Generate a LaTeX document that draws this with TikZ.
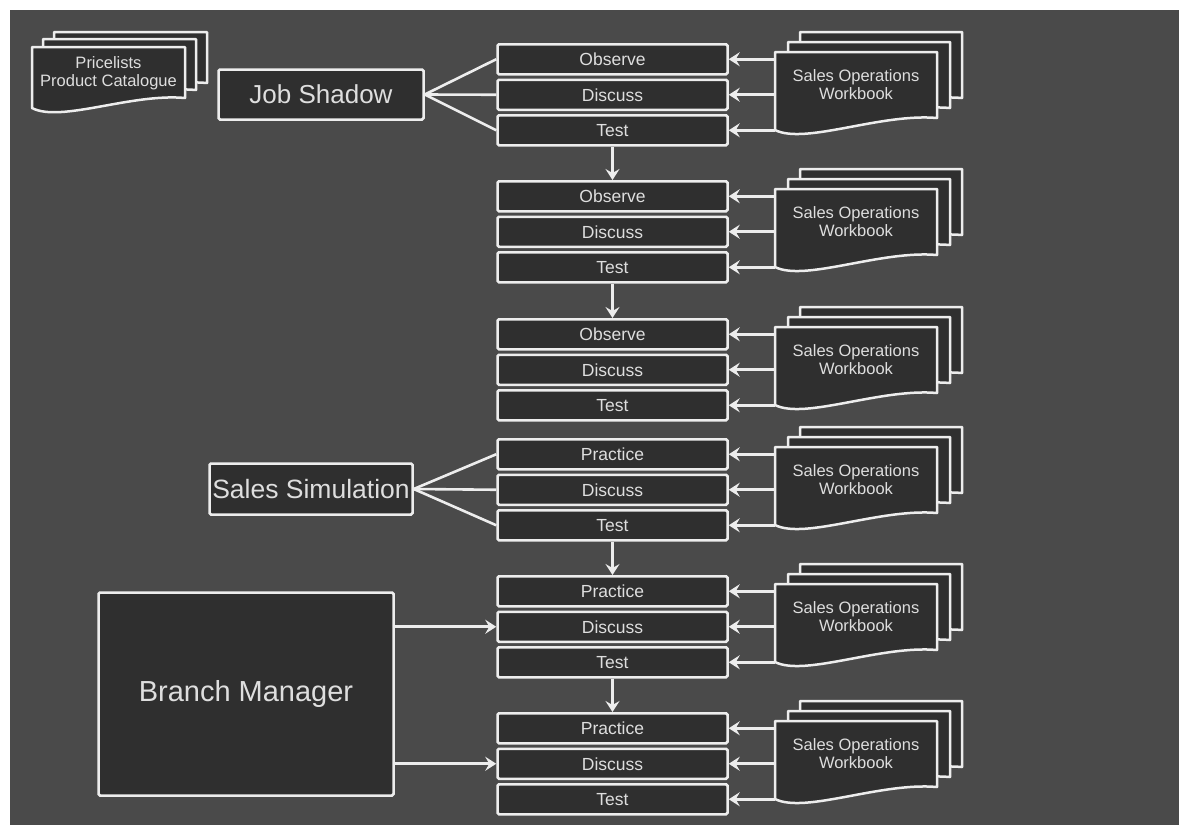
\documentclass[tikz,border=0pt]{standalone}
\usepackage{fontspec}
\setmainfont{Liberation Sans}
\usetikzlibrary{arrows.meta,calc}

\definecolor{bgdark}{HTML}{4A4A4A}
\definecolor{boxfill}{HTML}{2F2F2F}
\definecolor{ink}{HTML}{EDEDED}
\definecolor{txt}{HTML}{DEDEDE}

% one sheet of a "document" symbol: x, top, width, height (right side), extra drop on the left
\newcommand{\docsheet}[5]{%
  \filldraw[sheet] (#1,#2) -- ({#1+#3},#2) -- ({#1+#3},{#2+#4})
    .. controls ({#1+0.65*#3},{#2+#4-5}) and ({#1+0.185*#3},{#2+#4+#5+15}) ..
    (#1,{#2+#4+#5}) -- cycle;}

\tikzset{
  sheet/.style={draw=ink, fill=boxfill, line width=2.5pt, line join=round},
  box/.style={draw=ink, fill=boxfill, line width=2.5pt, rounded corners=1.5pt,
    text=txt, inner sep=1pt},
  row/.style={box, minimum width=230pt, minimum height=30pt,
    font=\fontsize{17.5}{20}\selectfont},
  bigbox/.style={box, font=\fontsize{26.5}{30}\selectfont},
  doctext/.style={text=txt, align=center, inner sep=0pt,
    font=\fontsize{16.5}{18}\selectfont},
  link/.style={draw=ink, line width=2.6pt},
  arrow/.style={link, -{Stealth[length=11pt,width=14pt,inset=4pt]}},
}

\begin{document}
\begin{tikzpicture}[x=1pt, y=-1pt]
  % page and dark panel
  \useasboundingbox (0,0) rectangle (1179,825);
  \fill[white] (0,0) rectangle (1179,825);
  \fill[bgdark] (10,10) rectangle (1179,825);

  % price lists / catalogue document stack
  \docsheet{54}{32}{153}{51}{10}
  \docsheet{43}{39}{153}{51}{10}
  \docsheet{32}{47}{153}{51}{10}
  \node[doctext] (cat) at (108.5,73) {Pricelists\\Product Catalogue};

  % the six Observe/Practice -- Discuss -- Test stacks with their workbooks
  \foreach \k/\T/\first in {1/43/Observe, 2/180/Observe, 3/318/Observe,
                            4/438/Practice, 5/575/Practice, 6/712/Practice} {
    \node[row] (s\k a) at (612.5,{\T+16.25}) {\first};
    \node[row] (s\k b) at (612.5,{\T+51.75}) {Discuss};
    \node[row] (s\k c) at (612.5,{\T+87.25}) {Test};
    \docsheet{800}{\T-11}{162}{66}{12}
    \docsheet{788}{\T-1}{162}{66}{12}
    \docsheet{775}{\T+9}{162}{66}{12}
    \node[doctext, minimum width=162pt, minimum height=66pt] (w\k) at (856,{\T+42})
      {Sales Operations\\Workbook};
    \foreach \r in {a,b,c}
      \draw[arrow] (w\k.west |- s\k\r.east) -- (s\k\r.east);
  }

  % flow from stack to stack
  \draw[arrow] (s1c.south) -- (s2a.north);
  \draw[arrow] (s2c.south) -- (s3a.north);
  \draw[arrow] (s4c.south) -- (s5a.north);
  \draw[arrow] (s5c.south) -- (s6a.north);

  % Job Shadow
  \node[bigbox, minimum width=205pt, minimum height=50pt,
        font=\fontsize{26}{30}\selectfont] (js) at (321,94.5) {Job Shadow};
  \foreach \r in {a,b,c} \draw[link] (js.east) -- (s1\r.west);

  % Sales Simulation
  \node[bigbox, minimum width=203pt, minimum height=51pt] (sim) at (311,489)
    {Sales Simulation};
  \foreach \r in {a,b,c} \draw[link] (sim.east) -- (s4\r.west);

  % Branch Manager
  \node[bigbox, minimum width=295pt, minimum height=203pt,
        font=\fontsize{29}{34}\selectfont] (bm) at (246,694) {Branch Manager};
  \draw[arrow] (bm.east |- s5b.west) -- (s5b.west);
  \draw[arrow] (bm.east |- s6b.west) -- (s6b.west);
\end{tikzpicture}
\end{document}
